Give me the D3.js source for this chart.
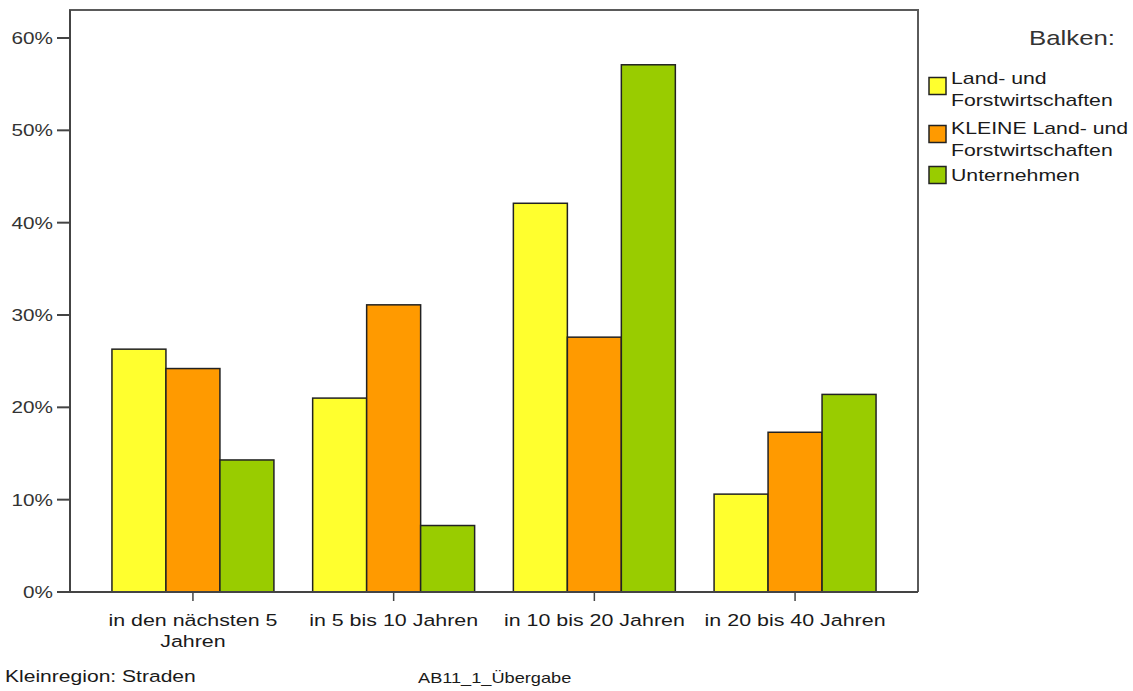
<!DOCTYPE html>
<html><head><meta charset="utf-8">
<script src="https://cdn.jsdelivr.net/npm/d3@7"></script>
<style>
html,body{margin:0;padding:0;background:#fff;}
svg{display:block;font-family:"Liberation Sans",Arial,sans-serif;}
</style></head>
<body>
<svg id="chart" width="1133" height="691"></svg>
<script>
// ---- data ----
const categories = [["in den nächsten 5","Jahren"],["in 5 bis 10 Jahren"],["in 10 bis 20 Jahren"],["in 20 bis 40 Jahren"]];
const seriesNames = [["Land- und","Forstwirtschaften"],["KLEINE Land- und","Forstwirtschaften"],["Unternehmen"]];
const landForst = [26.3, 21.0, 42.1, 10.6];
const kleineLandForst = [24.2, 31.1, 27.6, 17.3];
const unternehmen = [14.3, 7.2, 57.1, 21.4];
const yTicks = [0, 10, 20, 30, 40, 50, 60];
const colors = ["#ffff2e", "#ff9a00", "#99cc00"];
const legendTitle = "Balken:";
const footLeft = "Kleinregion: Straden";
const footCenter = "AB11_1_Übergabe";

const series = [landForst, kleineLandForst, unternehmen];

const svg = d3.select("#chart");
const L = 70, R = 918, T = 10, B = 592;

const x0 = d3.scaleBand().domain(d3.range(categories.length)).range([L, R]).paddingInner(0.193).paddingOuter(0.209);
const x1 = d3.scaleBand().domain(d3.range(series.length)).range([0, x0.bandwidth()]);
const y = d3.scaleLinear().domain([0, 60]).range([B, 38]);

function stext(g, x, yy, str, size, anchor, fill, sx) {
  g.append("g").attr("transform", `translate(${x},${yy}) scale(${sx},1)`)
   .append("text").attr("text-anchor", anchor).attr("font-size", size).attr("fill", fill||"#1a1a1a").text(str);
}

// frame top/right
svg.append("path").attr("d", `M${L},${B} L${L},${T} L${R},${T} L${R},${B}`)
  .attr("fill", "none").attr("stroke", "#5a5a5a").attr("stroke-width", 2);

// bars
const gBars = svg.append("g");
categories.forEach((c, i) => {
  series.forEach((s, j) => {
    gBars.append("rect")
      .attr("x", x0(i) + x1(j)).attr("y", y(s[i]))
      .attr("width", x1.bandwidth()).attr("height", y(0) - y(s[i]))
      .attr("fill", colors[j]).attr("stroke", "#222").attr("stroke-width", 1.5);
  });
});

// y axis
const gy = svg.append("g");
gy.append("line").attr("x1", L).attr("x2", L).attr("y1", T).attr("y2", B).attr("stroke", "#444").attr("stroke-width", 2);
yTicks.forEach(t => {
  gy.append("line").attr("x1", 57).attr("x2", L).attr("y1", y(t)).attr("y2", y(t)).attr("stroke", "#444").attr("stroke-width", 2);
  stext(gy, 53, y(t) + 6, t + "%", 17, "end", "#333", 1.22);
});

// x axis
const gx = svg.append("g");
gx.append("line").attr("x1", L).attr("x2", R).attr("y1", B).attr("y2", B).attr("stroke", "#444").attr("stroke-width", 2);
categories.forEach((c, i) => {
  const cx = x0(i) + x0.bandwidth() / 2;
  gx.append("line").attr("x1", cx).attr("x2", cx).attr("y1", B).attr("y2", B + 9).attr("stroke", "#444").attr("stroke-width", 1.5);
  c.forEach((line, k) => stext(gx, cx, 626 + k * 21, line, 17, "middle", "#1a1a1a", 1.26));
});

// legend
const lg = svg.append("g");
stext(lg, 1115, 45, legendTitle, 20, "end", "#333", 1.29);
const legendRows = [[84, 86], [134, 134], [181, 175]];
seriesNames.forEach((names, j) => {
  const [base, cy] = legendRows[j];
  lg.append("rect").attr("x", 929).attr("y", cy - 8.5).attr("width", 17).attr("height", 17)
    .attr("fill", colors[j]).attr("stroke", "#222").attr("stroke-width", 1.5);
  names.forEach((n, k) => stext(lg, 951, base + k * 22, n, 17, "start", "#1a1a1a", 1.25));
});

// footer
stext(svg, 5, 682, footLeft, 17, "start", "#1a1a1a", 1.24);
stext(svg, 418, 683, footCenter, 14, "start", "#1a1a1a", 1.3);
</script>
</body></html>
